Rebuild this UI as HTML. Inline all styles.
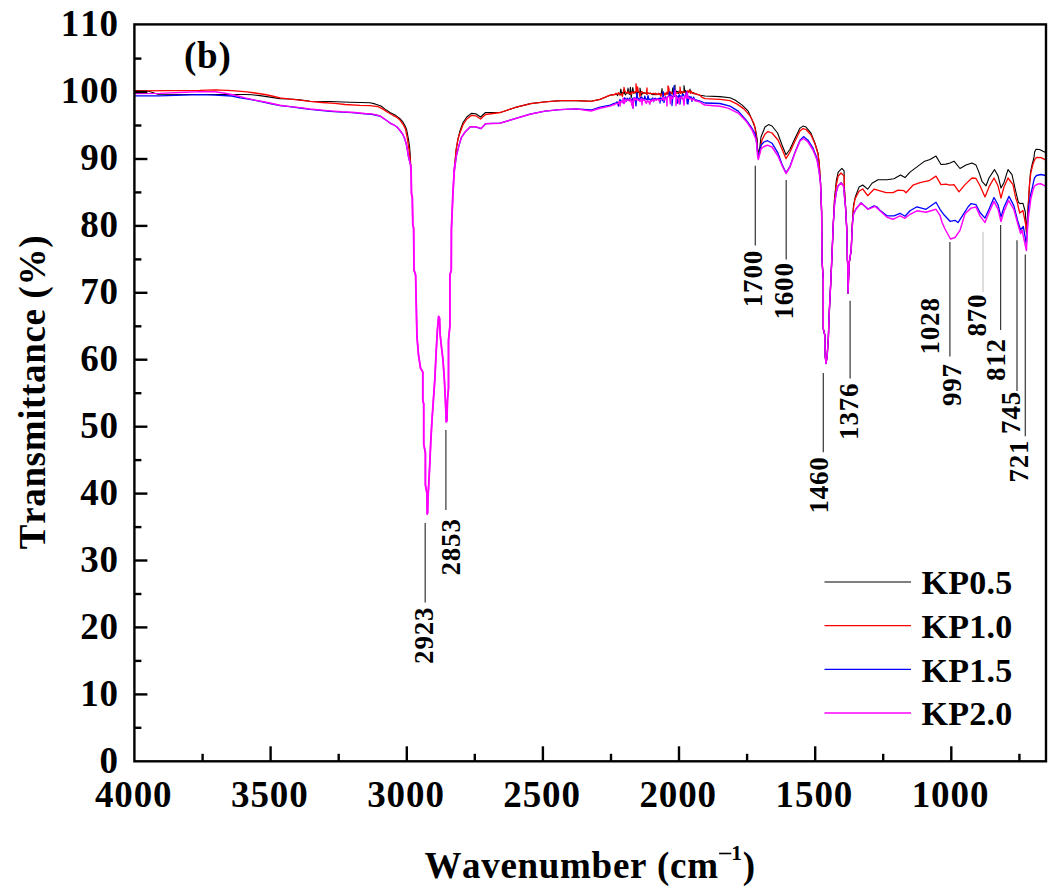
<!DOCTYPE html>
<html><head><meta charset="utf-8"><style>
html,body{margin:0;padding:0;background:#fff;}
body{width:1059px;height:896px;overflow:hidden;font-family:"Liberation Serif",serif;}
svg{display:block;font-kerning:none;}
</style></head><body>
<svg width="1059" height="896" viewBox="0 0 1059 896"><rect x="0" y="0" width="1059" height="896" fill="#ffffff"/><path d="M134.5,90.6 L148.0,91.0 L158.0,94.3 L200.0,94.5 L235.0,94.5 L245.0,94.5 L252.0,94.8 L260.0,95.6 L270.0,97.1 L280.0,98.6 L290.0,99.0 L300.0,99.9 L310.0,101.2 L330.0,101.5 L350.0,102.2 L370.0,102.8 L375.0,103.9 L381.0,106.0 L385.0,109.1 L390.0,112.5 L395.0,114.9 L400.0,118.7 L403.0,122.2 L405.0,125.7 L406.5,129.1 L407.5,134.0 L408.5,139.5 L409.5,146.4 L410.1,153.0 L410.5,160.0 L410.6,165.0 L410.6,165.0 L411.1,172.0 M454.2,172.0 L454.7,166.0 L454.7,166.0 L455.2,160.0 L456.1,150.0 L457.9,139.3 L460.1,130.4 L463.2,122.3 L466.8,117.0 L471.3,113.4 L475.7,113.8 L480.6,117.0 L485.5,112.5 L500.4,112.5 L515.5,107.4 L530.6,103.6 L545.7,101.8 L560.8,100.6 L576.0,100.6 L591.0,101.3 L600.0,99.4 L610.0,95.2 L612.0,94.9 L612.8,94.8 L613.6,94.6 L614.4,94.5 L615.2,94.4 L616.0,94.2 L616.8,94.3 L617.6,95.6 L618.4,93.1 L619.2,93.9 L620.0,93.8 L620.8,89.1 L621.6,93.7 L622.4,92.7 L623.2,93.5 L624.0,89.0 L624.8,94.0 L625.6,94.9 L626.4,93.0 L627.2,93.1 L628.0,88.8 L628.0,88.0 L628.8,93.6 L629.6,94.4 L630.4,87.4 L631.2,97.9 L632.0,92.0 L632.8,87.5 L633.6,93.0 L634.4,92.7 L635.2,92.7 L636.0,92.6 L636.8,95.9 L637.6,91.7 L638.4,92.6 L639.2,92.2 L640.0,92.2 L640.0,88.0 L640.8,92.4 L641.6,95.1 L642.4,93.1 L643.2,92.7 L644.0,92.9 L644.8,92.9 L645.6,93.2 L646.4,94.1 L647.2,93.6 L648.0,93.6 L648.8,93.2 L649.6,93.4 L650.4,93.1 L651.2,93.8 L652.0,94.4 L652.8,94.7 L653.6,94.2 L654.4,94.6 L655.2,94.8 L656.0,93.7 L656.8,94.1 L657.6,94.2 L658.4,94.0 L659.2,93.8 L660.0,94.1 L660.8,94.4 L661.6,91.9 L662.0,88.5 L662.4,93.8 L663.2,93.6 L664.0,93.7 L664.8,93.3 L665.6,94.3 L666.4,93.7 L667.2,93.8 L668.0,93.6 L668.8,93.1 L669.6,92.0 L670.4,93.9 L671.2,92.5 L672.0,94.0 L672.8,87.9 L673.6,92.9 L674.4,93.6 L675.0,85.0 L675.2,93.0 L676.0,92.4 L676.8,91.1 L677.6,91.6 L678.4,93.5 L679.2,91.0 L680.0,93.2 L680.8,91.7 L681.6,91.7 L682.4,93.4 L683.2,92.9 L684.0,92.1 L684.0,85.5 L684.8,91.4 L685.6,90.6 L686.4,92.8 L687.2,93.4 L688.0,92.4 L688.8,91.8 L689.6,91.1 L690.0,89.0 L690.4,92.2 L691.2,92.6 L692.0,92.8 L692.8,93.2 L693.6,92.6 L694.4,93.7 L695.2,93.8 L696.0,94.1 L696.8,94.3 L697.6,94.4 L698.4,94.8 L699.2,95.0 L700.0,95.2 L705.0,96.0 L720.0,96.6 L730.0,97.8 L735.0,100.0 L742.2,105.1 L748.2,111.1 L752.2,120.2 L755.3,128.2 L757.3,140.2 L757.5,148.0 L757.5,148.0 L758.5,152.0 L759.5,150.0 L761.0,137.0 L765.0,127.0 L768.5,124.6 L772.0,126.0 L777.6,133.0 L782.0,145.0 L786.0,154.7 L790.0,149.2 L795.0,138.2 L800.0,128.1 L803.0,126.1 L806.0,127.1 L811.0,133.1 L815.0,143.2 L818.0,153.2 L819.1,162.3 L820.4,180.7 L821.6,211.4 L822.0,260.0 L823.3,280.0 L823.3,329.0 L824.8,335.0 L825.2,356.0 L826.0,363.0 L827.1,357.0 L828.4,337.0 L829.1,315.6 L830.4,290.0 L831.8,259.4 L833.3,223.7 L834.5,199.1 L836.3,180.7 L838.2,172.1 L841.9,168.4 L844.1,170.9 L844.3,186.9 L845.5,205.3 L846.8,229.9 L847.4,260.0 L847.8,265.0 L848.0,293.0 L849.2,263.0 L851.2,250.0 L852.3,223.7 L853.5,205.3 L855.4,196.7 L859.1,186.9 L862.7,185.0 L867.7,189.2 L872.0,183.2 L878.0,179.7 L887.0,179.7 L894.0,178.7 L900.5,175.1 L905.0,177.6 L910.0,172.1 L916.0,167.6 L924.0,161.6 L930.0,159.6 L936.0,156.1 L941.0,164.5 L946.0,164.1 L950.0,163.0 L954.0,161.2 L960.0,168.5 L966.0,165.1 L972.0,162.9 L976.0,165.1 L979.0,172.4 L982.0,181.3 L986.0,185.8 L989.0,178.0 L994.5,169.6 L998.0,175.7 L1001.0,188.0 L1004.0,182.4 L1008.0,169.6 L1012.0,174.6 L1016.0,192.5 L1018.4,202.3 L1020.0,203.6 L1022.9,203.2 L1025.3,212.0 L1026.4,232.0 L1027.6,215.0 L1028.4,202.3 L1029.5,185.0 L1030.5,172.0 L1032.0,165.0 L1034.0,157.5 L1034.6,152.0 L1036.0,149.3 L1039.5,149.5 L1045.5,152.5" fill="none" stroke="#000000" stroke-width="1.1" stroke-linejoin="round"/><path d="M134.5,90.8 L200.0,90.3 L215.0,89.8 L232.0,90.7 L247.0,91.8 L255.0,93.0 L265.0,94.5 L272.0,96.0 L280.0,97.9 L290.0,99.2 L300.0,100.1 L310.0,101.4 L322.0,102.5 L335.0,103.3 L345.0,104.5 L360.0,105.4 L370.0,105.6 L378.0,106.6 L383.0,109.1 L388.0,112.5 L393.0,115.3 L397.0,117.4 L400.0,120.1 L403.0,124.3 L405.5,129.1 L406.5,134.0 L407.5,139.5 L408.5,146.4 L409.5,153.3 L410.3,160.0 L410.6,165.0 L410.6,165.0 L411.1,172.0 M454.2,172.0 L454.7,166.0 L454.7,166.0 L455.2,160.0 L456.1,150.0 L457.9,139.3 L460.1,132.4 L463.2,124.3 L466.8,119.0 L471.3,115.4 L475.7,115.8 L480.6,119.0 L485.5,114.5 L500.4,112.5 L515.5,107.4 L530.6,103.6 L545.7,101.8 L560.8,100.6 L576.0,100.6 L591.0,101.3 L600.0,99.4 L610.0,95.2 L612.0,94.9 L612.8,94.7 L613.6,95.0 L614.4,94.3 L615.2,94.5 L616.0,93.2 L616.8,94.1 L617.6,94.2 L618.4,92.8 L619.2,93.7 L620.0,95.2 L620.8,94.6 L621.6,94.0 L622.4,96.3 L623.2,92.0 L624.0,91.1 L624.0,87.5 L624.8,90.8 L625.6,92.2 L626.4,92.7 L627.2,93.0 L628.0,91.6 L628.8,93.1 L629.6,93.3 L630.4,93.0 L631.2,94.4 L632.0,91.8 L632.8,92.4 L633.6,93.2 L634.4,92.3 L635.2,91.6 L636.0,92.3 L636.0,83.8 L636.8,92.2 L637.6,87.0 L638.4,91.8 L639.2,92.3 L640.0,97.2 L640.8,92.5 L641.6,91.6 L642.4,92.1 L643.2,93.1 L644.0,93.5 L644.8,93.1 L645.6,93.2 L646.4,93.0 L647.0,88.0 L647.2,94.1 L648.0,93.0 L648.8,93.2 L649.6,93.7 L650.4,93.5 L651.2,93.7 L652.0,93.6 L652.8,93.5 L653.6,93.3 L654.4,93.9 L655.2,93.2 L656.0,94.3 L656.8,94.5 L657.6,94.2 L658.4,93.3 L659.2,94.4 L660.0,94.2 L660.8,96.3 L661.6,94.0 L662.4,94.5 L663.2,93.7 L664.0,95.3 L664.8,93.3 L665.6,94.9 L666.4,92.5 L667.2,92.3 L668.0,94.4 L668.0,86.0 L668.8,87.7 L669.6,94.8 L670.4,91.8 L671.2,92.6 L672.0,93.1 L672.8,94.1 L673.6,92.1 L674.4,93.4 L675.2,93.3 L676.0,92.5 L676.8,93.4 L677.6,92.7 L678.4,92.7 L679.2,92.5 L680.0,91.0 L680.0,87.0 L680.8,93.4 L681.6,92.5 L682.4,91.9 L683.2,91.5 L684.0,92.4 L684.8,92.2 L685.6,92.5 L686.4,93.2 L687.2,90.7 L688.0,92.1 L688.8,90.7 L689.6,91.0 L690.4,93.3 L691.2,91.2 L692.0,92.8 L692.8,92.6 L693.6,93.6 L694.4,93.4 L695.2,93.7 L696.0,93.8 L696.8,94.2 L697.6,94.5 L698.4,94.7 L699.2,95.0 L700.0,95.2 L702.0,97.3 L705.0,98.6 L720.0,99.4 L730.0,100.6 L737.2,104.1 L744.2,109.1 L750.2,116.2 L754.3,124.2 L756.3,136.2 L757.5,150.0 L757.5,150.0 L758.5,156.0 L760.0,152.0 L762.0,140.0 L765.0,134.0 L768.0,131.6 L772.0,133.0 L778.0,140.0 L782.0,149.0 L786.0,158.7 L790.0,152.0 L795.0,141.0 L800.0,131.0 L803.0,128.6 L806.0,129.5 L811.0,135.0 L815.0,144.0 L818.0,154.0 L819.1,162.3 L820.4,180.7 L821.6,211.4 L822.0,260.0 L823.3,280.0 L823.3,329.0 L824.8,335.0 L825.2,356.0 L826.0,363.0 L827.1,357.0 L828.4,337.0 L829.1,315.6 L830.4,290.0 L831.8,259.4 L833.3,223.7 L834.5,200.0 L836.3,185.0 L838.2,176.0 L841.0,173.0 L844.1,176.0 L844.3,188.0 L845.5,205.3 L846.8,229.9 L847.4,260.0 L847.8,265.0 L848.0,293.0 L849.2,263.0 L851.2,250.0 L852.3,224.0 L853.5,208.0 L855.0,199.0 L859.0,191.2 L862.7,189.0 L867.7,195.7 L874.0,189.2 L886.0,192.7 L893.0,192.7 L898.0,190.2 L904.0,190.7 L906.0,192.7 L913.0,185.2 L920.0,182.7 L929.0,180.7 L936.0,176.1 L941.0,184.7 L946.0,184.2 L950.0,185.2 L954.0,184.6 L959.0,191.9 L965.0,184.6 L972.0,178.0 L976.0,178.5 L980.0,185.8 L985.0,196.9 L989.0,186.9 L994.0,178.0 L998.0,185.8 L1001.0,198.0 L1004.0,186.9 L1008.0,178.0 L1013.0,184.6 L1015.7,197.9 L1017.0,201.4 L1019.7,213.0 L1022.9,210.4 L1025.6,224.0 L1026.6,233.0 L1027.8,215.0 L1028.7,197.9 L1029.6,183.0 L1031.0,172.0 L1033.0,164.0 L1035.0,159.0 L1037.0,157.3 L1041.0,157.7 L1045.5,159.8" fill="none" stroke="#ff0000" stroke-width="1.3" stroke-linejoin="round"/><path d="M134.5,95.8 L159.0,95.8 L200.0,94.7 L215.0,95.2 L232.0,96.0 L240.0,97.9 L250.0,99.4 L260.0,101.3 L270.0,103.5 L280.0,105.6 L290.0,106.6 L300.0,108.0 L310.0,109.4 L330.0,111.3 L342.0,112.2 L352.0,112.7 L365.0,113.9 L372.0,114.3 L375.0,115.0 L380.0,116.0 L384.0,118.7 L388.0,121.5 L391.0,123.6 L394.0,125.0 L397.0,127.0 L400.0,130.5 L403.0,134.7 L405.0,139.5 L406.5,145.0 L407.5,150.6 L408.5,156.8 L409.3,160.0 L410.6,165.0 L410.6,165.0 L411.1,172.0 M454.2,172.0 L454.7,166.0 L454.7,166.0 L455.5,162.0 L456.5,155.4 L459.2,144.6 L461.4,137.5 L465.0,132.1 L470.4,126.8 L475.7,126.8 L481.1,128.6 L485.5,123.7 L500.0,123.2 L515.0,118.7 L530.0,114.2 L545.0,111.1 L560.0,109.6 L576.0,108.9 L591.0,110.0 L600.0,107.2 L610.0,105.1 L612.0,104.3 L612.8,103.9 L613.6,103.7 L614.4,103.5 L615.2,103.2 L616.0,103.0 L616.8,102.0 L617.6,102.4 L618.4,106.2 L619.2,102.2 L620.0,99.5 L620.8,100.7 L621.6,101.2 L622.4,101.0 L623.2,103.1 L624.0,99.1 L624.8,97.8 L625.6,99.0 L626.4,101.2 L627.2,98.2 L628.0,100.2 L628.8,99.4 L629.6,98.1 L630.4,98.7 L631.2,100.3 L632.0,100.5 L632.8,98.2 L633.0,108.0 L633.6,100.6 L634.4,97.8 L635.2,98.1 L636.0,105.9 L636.8,93.0 L637.6,97.8 L638.4,98.6 L639.2,100.5 L640.0,98.6 L640.8,97.5 L641.6,96.9 L642.4,98.6 L643.2,98.8 L644.0,99.6 L644.8,96.2 L645.6,98.7 L646.4,99.5 L647.2,99.5 L648.0,95.7 L648.8,99.6 L649.6,99.1 L650.4,99.3 L651.2,99.9 L652.0,98.8 L652.8,98.0 L653.6,101.7 L654.4,98.8 L655.2,98.2 L656.0,98.7 L656.8,99.4 L657.6,98.8 L658.4,98.5 L659.2,99.4 L660.0,97.9 L660.0,103.0 L660.8,98.0 L661.6,98.3 L662.4,100.8 L663.2,91.7 L664.0,102.6 L664.8,98.6 L665.6,96.8 L666.4,98.0 L667.2,97.4 L668.0,96.4 L668.8,96.3 L669.6,91.9 L670.4,97.6 L671.2,95.4 L672.0,95.9 L672.0,105.5 L672.8,96.9 L673.6,96.4 L674.0,86.0 L674.4,96.3 L675.2,93.9 L676.0,96.3 L676.8,96.0 L677.6,103.1 L678.4,96.1 L679.2,94.8 L680.0,97.6 L680.0,104.0 L680.8,95.9 L681.6,97.9 L682.4,94.3 L683.2,94.4 L684.0,96.0 L684.8,97.5 L685.6,96.3 L686.4,91.8 L687.2,103.7 L688.0,97.6 L688.0,104.0 L688.8,96.2 L689.6,97.4 L690.4,97.0 L691.2,96.9 L692.0,101.4 L692.8,98.8 L693.6,97.1 L694.4,98.8 L695.2,100.2 L696.0,99.7 L696.8,100.2 L697.6,100.5 L698.4,100.6 L699.2,100.8 L700.0,101.0 L705.0,103.0 L720.0,103.5 L730.0,106.1 L738.2,111.1 L746.2,120.2 L751.2,127.2 L755.3,134.2 L756.8,144.3 L757.5,152.0 L757.5,152.0 L758.3,158.0 L759.5,152.0 L761.0,145.2 L764.0,142.0 L767.5,140.7 L772.0,143.2 L778.0,153.2 L782.0,164.3 L786.0,172.8 L790.0,166.3 L795.0,152.2 L800.0,140.2 L803.5,136.6 L808.0,140.2 L813.0,148.2 L817.0,158.2 L819.0,170.3 L820.5,182.3 L821.6,211.4 L822.0,260.0 L823.3,280.0 L823.3,329.0 L824.8,335.0 L825.2,356.0 L826.0,363.5 L827.1,357.0 L828.4,337.0 L829.1,315.6 L830.4,290.0 L831.8,259.4 L833.3,223.7 L834.5,205.0 L836.3,192.0 L838.0,186.0 L841.2,182.6 L843.5,186.0 L844.3,195.0 L845.5,207.0 L846.8,229.9 L847.4,260.0 L847.8,265.0 L848.0,293.0 L849.2,263.0 L851.2,250.0 L852.3,226.0 L853.5,213.9 L856.0,209.0 L861.0,202.8 L868.0,209.0 L874.0,205.9 L877.0,206.8 L880.0,210.3 L887.0,215.8 L894.0,215.8 L900.0,213.3 L905.0,216.3 L910.0,210.8 L917.0,206.8 L926.0,209.3 L936.0,202.2 L940.0,209.3 L944.0,214.8 L950.0,221.3 L955.0,220.3 L958.0,222.6 L963.0,214.8 L968.0,207.0 L971.0,203.6 L976.0,204.7 L980.0,212.5 L985.0,218.1 L989.0,209.2 L994.0,197.5 L998.0,204.7 L1001.0,217.0 L1004.0,207.0 L1009.0,196.4 L1013.9,205.9 L1017.5,220.2 L1020.6,230.0 L1023.3,226.4 L1026.4,244.3 L1028.7,206.8 L1030.5,195.0 L1032.5,187.0 L1033.5,182.0 L1034.5,178.0 L1036.5,175.5 L1041.0,174.5 L1045.5,175.5" fill="none" stroke="#0000ff" stroke-width="1.3" stroke-linejoin="round"/><path d="M134.5,93.6 L160.0,93.4 L185.0,92.2 L200.0,91.6 L215.0,91.8 L225.0,93.3 L235.0,95.2 L245.0,97.9 L255.0,100.1 L265.0,102.0 L280.0,105.2 L290.0,106.6 L300.0,107.6 L310.0,109.0 L330.0,110.9 L342.0,111.8 L352.0,112.3 L365.0,113.5 L372.0,113.9 L375.0,114.6 L380.0,116.0 L384.0,118.7 L388.0,121.5 L391.0,123.6 L394.0,125.0 L397.0,127.0 L400.0,130.5 L403.0,134.7 L405.0,139.5 L406.5,145.0 L407.5,150.6 L408.5,156.8 L409.3,160.0 L410.6,165.0 L410.6,165.0 L411.1,172.0 L411.5,194.0 L412.3,197.0 L412.8,225.0 L413.6,228.0 L414.0,270.0 L415.6,275.0 L416.7,325.0 L417.0,337.0 L418.5,355.0 L420.5,368.0 L422.8,372.0 L422.8,400.0 L423.7,404.0 L423.7,444.0 L425.4,453.0 L425.4,485.0 L426.9,493.0 L427.2,514.0 L427.6,513.0 L428.0,498.0 L429.5,470.0 L430.8,441.0 L432.0,420.0 L433.4,400.0 L434.8,380.0 L436.0,355.0 L437.4,330.0 L438.6,316.5 L439.5,318.0 L440.2,335.0 L441.6,348.0 L443.0,360.0 L444.4,380.0 L445.6,405.0 L446.2,421.8 L446.9,421.0 L447.5,400.0 L448.5,388.0 L448.5,340.0 L449.9,326.0 L449.9,275.0 L451.3,270.0 L451.4,230.0 L453.0,191.4 L454.2,172.0 L454.7,166.0 L454.7,166.0 L455.5,162.0 L456.5,155.4 L459.2,144.6 L461.4,137.5 L465.0,132.1 L470.4,126.8 L475.7,126.8 L481.1,128.6 L485.5,123.7 L500.0,123.2 L515.0,118.7 L530.0,114.2 L545.0,111.1 L560.0,109.6 L576.0,108.9 L591.0,111.0 L600.0,108.2 L610.0,106.1 L612.0,105.3 L612.8,104.9 L613.6,104.7 L614.4,104.7 L615.2,104.0 L616.0,103.5 L616.8,103.6 L617.6,103.9 L618.4,103.3 L619.2,101.4 L620.0,102.1 L620.0,106.0 L620.8,101.6 L621.6,101.7 L622.4,102.2 L623.2,98.2 L624.0,103.6 L624.8,102.5 L625.6,99.5 L626.4,100.3 L627.2,100.2 L628.0,99.8 L628.8,100.5 L629.6,101.0 L630.4,99.0 L631.2,101.3 L632.0,105.5 L632.8,100.8 L633.0,108.2 L633.6,98.1 L634.4,100.3 L635.2,98.6 L636.0,100.0 L636.8,98.9 L637.6,99.9 L638.4,100.3 L639.2,99.9 L640.0,101.5 L640.8,99.8 L641.6,98.7 L642.0,105.0 L642.4,100.4 L643.2,99.7 L644.0,100.3 L644.8,99.9 L645.6,102.5 L646.4,103.3 L647.2,100.8 L648.0,101.5 L648.8,101.4 L649.6,104.1 L650.0,104.0 L650.4,100.4 L651.2,101.2 L652.0,100.2 L652.8,99.5 L653.6,101.1 L654.4,99.6 L655.2,99.4 L656.0,100.3 L656.8,99.8 L657.6,99.1 L658.4,99.6 L659.2,101.0 L660.0,99.4 L660.8,99.6 L661.6,99.4 L662.4,99.3 L663.2,97.1 L664.0,100.2 L664.8,97.9 L665.6,98.7 L666.4,98.1 L667.0,106.0 L667.2,97.3 L668.0,96.7 L668.8,96.2 L669.6,96.6 L670.4,103.8 L671.2,96.1 L672.0,98.6 L672.8,98.1 L673.6,96.0 L674.4,95.5 L675.2,90.0 L676.0,98.0 L676.0,105.5 L676.8,97.3 L677.6,98.4 L678.4,98.5 L679.2,103.8 L680.0,97.4 L680.8,97.2 L681.6,97.1 L682.4,99.2 L683.2,98.1 L684.0,105.1 L684.8,95.5 L685.6,96.4 L686.4,98.0 L687.2,92.2 L688.0,98.3 L688.8,97.3 L689.6,98.9 L690.4,98.7 L691.2,98.6 L692.0,100.3 L692.8,99.8 L693.6,98.8 L694.4,99.8 L695.2,100.8 L696.0,101.2 L696.8,100.9 L697.6,101.3 L698.4,101.5 L699.2,101.7 L700.0,102.0 L702.0,103.5 L705.0,105.0 L720.0,106.2 L728.0,108.1 L738.2,113.1 L746.2,121.2 L752.2,130.2 L756.3,140.2 L757.5,155.0 L757.5,155.0 L758.3,159.5 L759.5,155.0 L761.0,149.0 L764.0,146.5 L767.5,145.2 L772.0,147.0 L778.0,156.0 L782.0,165.5 L786.0,173.5 L790.0,167.0 L795.0,153.0 L800.0,141.0 L803.5,138.5 L808.0,142.0 L813.0,150.0 L817.0,160.0 L819.0,171.0 L820.5,183.0 L821.6,211.4 L822.0,260.0 L823.3,280.0 L823.3,329.0 L824.8,335.0 L825.2,356.0 L826.0,363.5 L827.1,357.0 L828.4,337.0 L829.1,315.6 L830.4,290.0 L831.8,259.4 L833.3,223.7 L834.5,205.0 L836.3,192.0 L838.0,186.0 L841.2,183.0 L843.5,186.0 L844.3,195.0 L845.5,207.0 L846.8,229.9 L847.4,260.0 L847.8,265.0 L848.0,293.0 L849.2,263.0 L851.2,250.0 L852.3,226.0 L853.5,214.0 L856.0,209.0 L861.0,203.0 L868.0,209.3 L875.0,206.3 L887.0,217.3 L893.0,219.3 L900.0,215.8 L905.0,218.3 L910.0,214.3 L917.0,210.8 L926.0,212.3 L936.0,209.3 L940.0,215.3 L942.0,222.3 L945.0,229.0 L950.5,239.0 L955.0,237.5 L960.0,230.4 L965.0,213.7 L971.0,208.1 L976.0,207.0 L980.0,215.9 L985.0,222.6 L989.0,212.5 L994.0,201.4 L998.0,209.2 L1001.0,221.5 L1004.0,211.4 L1008.6,200.5 L1013.9,209.5 L1017.5,222.9 L1020.6,233.6 L1022.0,230.0 L1026.4,250.5 L1028.0,220.2 L1031.0,198.0 L1033.0,190.0 L1034.5,186.0 L1036.0,185.0 L1038.0,184.0 L1041.0,183.8 L1045.5,186.2" fill="none" stroke="#ff00ff" stroke-width="1.45" stroke-linejoin="round"/><polyline points="410.6,165.0 410.6,165.0 411.1,172.0 411.5,194.0 412.3,197.0 412.8,225.0 413.6,228.0 414.0,270.0 415.6,275.0 416.7,325.0 417.0,337.0 418.5,355.0 420.5,368.0 422.8,372.0 422.8,400.0 423.7,404.0 423.7,444.0 425.4,453.0 425.4,485.0 426.9,493.0 427.2,514.0 427.6,513.0 428.0,498.0 429.5,470.0 430.8,441.0 432.0,420.0 433.4,400.0 434.8,380.0 436.0,355.0 437.4,330.0 438.6,316.5 439.5,318.0 440.2,335.0 441.6,348.0 443.0,360.0 444.4,380.0 445.6,405.0 446.2,421.8 446.9,421.0 447.5,400.0 448.5,388.0 448.5,340.0 449.9,326.0 449.9,275.0 451.3,270.0 451.4,230.0 453.0,191.4 454.2,172.0 454.7,166.0 454.7,166.0 455.5,162.0" fill="none" stroke="#ff00ff" stroke-width="1.8" stroke-linejoin="round"/><rect x="134.4" y="24.4" width="911.6" height="736.9" fill="none" stroke="#000" stroke-width="2.4"/><line x1="134.4" y1="727.8" x2="141.4" y2="727.8" stroke="#000" stroke-width="2.4"/><line x1="134.4" y1="694.4" x2="147.4" y2="694.4" stroke="#000" stroke-width="2.4"/><line x1="134.4" y1="660.9" x2="141.4" y2="660.9" stroke="#000" stroke-width="2.4"/><line x1="134.4" y1="627.4" x2="147.4" y2="627.4" stroke="#000" stroke-width="2.4"/><line x1="134.4" y1="594.0" x2="141.4" y2="594.0" stroke="#000" stroke-width="2.4"/><line x1="134.4" y1="560.5" x2="147.4" y2="560.5" stroke="#000" stroke-width="2.4"/><line x1="134.4" y1="527.1" x2="141.4" y2="527.1" stroke="#000" stroke-width="2.4"/><line x1="134.4" y1="493.6" x2="147.4" y2="493.6" stroke="#000" stroke-width="2.4"/><line x1="134.4" y1="460.1" x2="141.4" y2="460.1" stroke="#000" stroke-width="2.4"/><line x1="134.4" y1="426.7" x2="147.4" y2="426.7" stroke="#000" stroke-width="2.4"/><line x1="134.4" y1="393.2" x2="141.4" y2="393.2" stroke="#000" stroke-width="2.4"/><line x1="134.4" y1="359.7" x2="147.4" y2="359.7" stroke="#000" stroke-width="2.4"/><line x1="134.4" y1="326.3" x2="141.4" y2="326.3" stroke="#000" stroke-width="2.4"/><line x1="134.4" y1="292.8" x2="147.4" y2="292.8" stroke="#000" stroke-width="2.4"/><line x1="134.4" y1="259.4" x2="141.4" y2="259.4" stroke="#000" stroke-width="2.4"/><line x1="134.4" y1="225.9" x2="147.4" y2="225.9" stroke="#000" stroke-width="2.4"/><line x1="134.4" y1="192.4" x2="141.4" y2="192.4" stroke="#000" stroke-width="2.4"/><line x1="134.4" y1="159.0" x2="147.4" y2="159.0" stroke="#000" stroke-width="2.4"/><line x1="134.4" y1="125.5" x2="141.4" y2="125.5" stroke="#000" stroke-width="2.4"/><line x1="134.4" y1="92.0" x2="147.4" y2="92.0" stroke="#000" stroke-width="2.4"/><line x1="134.4" y1="58.6" x2="141.4" y2="58.6" stroke="#000" stroke-width="2.4"/><line x1="202.6" y1="761.3" x2="202.6" y2="753.8" stroke="#000" stroke-width="2.4"/><line x1="270.6" y1="761.3" x2="270.6" y2="746.3" stroke="#000" stroke-width="2.4"/><line x1="338.7" y1="761.3" x2="338.7" y2="753.8" stroke="#000" stroke-width="2.4"/><line x1="406.8" y1="761.3" x2="406.8" y2="746.3" stroke="#000" stroke-width="2.4"/><line x1="474.8" y1="761.3" x2="474.8" y2="753.8" stroke="#000" stroke-width="2.4"/><line x1="542.9" y1="761.3" x2="542.9" y2="746.3" stroke="#000" stroke-width="2.4"/><line x1="611.0" y1="761.3" x2="611.0" y2="753.8" stroke="#000" stroke-width="2.4"/><line x1="679.0" y1="761.3" x2="679.0" y2="746.3" stroke="#000" stroke-width="2.4"/><line x1="747.1" y1="761.3" x2="747.1" y2="753.8" stroke="#000" stroke-width="2.4"/><line x1="815.2" y1="761.3" x2="815.2" y2="746.3" stroke="#000" stroke-width="2.4"/><line x1="883.2" y1="761.3" x2="883.2" y2="753.8" stroke="#000" stroke-width="2.4"/><line x1="951.3" y1="761.3" x2="951.3" y2="746.3" stroke="#000" stroke-width="2.4"/><line x1="1019.4" y1="761.3" x2="1019.4" y2="753.8" stroke="#000" stroke-width="2.4"/><text x="119" y="772.8" text-anchor="end" letter-spacing="0.9" font-family='"Liberation Serif", serif' font-weight="bold" font-size="37">0</text><text x="119" y="705.8" text-anchor="end" letter-spacing="0.9" font-family='"Liberation Serif", serif' font-weight="bold" font-size="37">10</text><text x="119" y="638.9" text-anchor="end" letter-spacing="0.9" font-family='"Liberation Serif", serif' font-weight="bold" font-size="37">20</text><text x="119" y="571.9" text-anchor="end" letter-spacing="0.9" font-family='"Liberation Serif", serif' font-weight="bold" font-size="37">30</text><text x="119" y="505.0" text-anchor="end" letter-spacing="0.9" font-family='"Liberation Serif", serif' font-weight="bold" font-size="37">40</text><text x="119" y="438.1" text-anchor="end" letter-spacing="0.9" font-family='"Liberation Serif", serif' font-weight="bold" font-size="37">50</text><text x="119" y="371.1" text-anchor="end" letter-spacing="0.9" font-family='"Liberation Serif", serif' font-weight="bold" font-size="37">60</text><text x="119" y="304.1" text-anchor="end" letter-spacing="0.9" font-family='"Liberation Serif", serif' font-weight="bold" font-size="37">70</text><text x="119" y="237.2" text-anchor="end" letter-spacing="0.9" font-family='"Liberation Serif", serif' font-weight="bold" font-size="37">80</text><text x="119" y="170.2" text-anchor="end" letter-spacing="0.9" font-family='"Liberation Serif", serif' font-weight="bold" font-size="37">90</text><text x="119" y="103.3" text-anchor="end" letter-spacing="0.9" font-family='"Liberation Serif", serif' font-weight="bold" font-size="37">100</text><text x="119" y="36.3" text-anchor="end" letter-spacing="0.9" font-family='"Liberation Serif", serif' font-weight="bold" font-size="37">110</text><text x="133.7" y="807" text-anchor="middle" letter-spacing="0.9" font-family='"Liberation Serif", serif' font-weight="bold" font-size="37">4000</text><text x="269.8" y="807" text-anchor="middle" letter-spacing="0.9" font-family='"Liberation Serif", serif' font-weight="bold" font-size="37">3500</text><text x="406.0" y="807" text-anchor="middle" letter-spacing="0.9" font-family='"Liberation Serif", serif' font-weight="bold" font-size="37">3000</text><text x="542.1" y="807" text-anchor="middle" letter-spacing="0.9" font-family='"Liberation Serif", serif' font-weight="bold" font-size="37">2500</text><text x="678.2" y="807" text-anchor="middle" letter-spacing="0.9" font-family='"Liberation Serif", serif' font-weight="bold" font-size="37">2000</text><text x="814.4" y="807" text-anchor="middle" letter-spacing="0.9" font-family='"Liberation Serif", serif' font-weight="bold" font-size="37">1500</text><text x="950.5" y="807" text-anchor="middle" letter-spacing="0.9" font-family='"Liberation Serif", serif' font-weight="bold" font-size="37">1000</text><text x="424.4" y="878.2" letter-spacing="0.69" font-family='"Liberation Serif", serif' font-weight="bold" font-size="37">Wavenumber (cm</text><line x1="719.1" y1="853.5" x2="731.3" y2="853.5" stroke="#000" stroke-width="1.6"/><text x="731.3" y="859.5" font-family='"Liberation Serif", serif' font-weight="bold" font-size="21.5">1</text><text x="742.7" y="878.2" font-family='"Liberation Serif", serif' font-weight="bold" font-size="37">)</text><text transform="translate(44.6,549.2) rotate(-90)" x="0" y="0" letter-spacing="0.66" font-family='"Liberation Serif", serif' font-weight="bold" font-size="37">Transmittance (%)</text><text x="183.9" y="68.0" letter-spacing="0.9" font-family='"Liberation Serif", serif' font-weight="bold" font-size="37">(b)</text><line x1="425.2" y1="523" x2="425.2" y2="602.5" stroke="#3c3c3c" stroke-width="1.25"/><text transform="translate(432.7,663.9) rotate(-90)" x="0" y="0" letter-spacing="0.8" font-family='"Liberation Serif", serif' font-weight="bold" font-size="27">2923</text><line x1="445.9" y1="430" x2="445.9" y2="510" stroke="#3c3c3c" stroke-width="1.25"/><text transform="translate(459.8,575.5) rotate(-90)" x="0" y="0" letter-spacing="0.8" font-family='"Liberation Serif", serif' font-weight="bold" font-size="27">2853</text><line x1="755.3" y1="165.7" x2="755.3" y2="245.4" stroke="#3c3c3c" stroke-width="1.25"/><text transform="translate(762.0,307.2) rotate(-90)" x="0" y="0" letter-spacing="0.8" font-family='"Liberation Serif", serif' font-weight="bold" font-size="27">1700</text><line x1="786.2" y1="180" x2="786.2" y2="259.6" stroke="#3c3c3c" stroke-width="1.25"/><text transform="translate(793.3,319.5) rotate(-90)" x="0" y="0" letter-spacing="0.8" font-family='"Liberation Serif", serif' font-weight="bold" font-size="27">1600</text><line x1="823.3" y1="373.1" x2="823.3" y2="452.2" stroke="#3c3c3c" stroke-width="1.25"/><text transform="translate(827.7,513.6) rotate(-90)" x="0" y="0" letter-spacing="0.8" font-family='"Liberation Serif", serif' font-weight="bold" font-size="27">1460</text><line x1="850.1" y1="300.7" x2="850.1" y2="378.5" stroke="#3c3c3c" stroke-width="1.25"/><text transform="translate(857.9,439.9) rotate(-90)" x="0" y="0" letter-spacing="0.8" font-family='"Liberation Serif", serif' font-weight="bold" font-size="27">1376</text><text transform="translate(938.7,354.5) rotate(-90)" x="0" y="0" letter-spacing="0.8" font-family='"Liberation Serif", serif' font-weight="bold" font-size="27">1028</text><line x1="949.9" y1="242" x2="949.9" y2="356.6" stroke="#3c3c3c" stroke-width="1.25"/><text transform="translate(961.4,406.1) rotate(-90)" x="0" y="0" letter-spacing="0.8" font-family='"Liberation Serif", serif' font-weight="bold" font-size="27">997</text><line x1="983" y1="231.8" x2="983" y2="292" stroke="#c8c8c8" stroke-width="1.25"/><text transform="translate(986.4,336.6) rotate(-90)" x="0" y="0" letter-spacing="0.8" font-family='"Liberation Serif", serif' font-weight="bold" font-size="27">870</text><line x1="1000.6" y1="225" x2="1000.6" y2="330" stroke="#3c3c3c" stroke-width="1.25"/><text transform="translate(1005.1,381.1) rotate(-90)" x="0" y="0" letter-spacing="0.8" font-family='"Liberation Serif", serif' font-weight="bold" font-size="27">812</text><line x1="1017" y1="240.3" x2="1017" y2="391" stroke="#3c3c3c" stroke-width="1.25"/><text transform="translate(1020.0,433.9) rotate(-90)" x="0" y="0" letter-spacing="0.8" font-family='"Liberation Serif", serif' font-weight="bold" font-size="27">745</text><line x1="1025.3" y1="254.4" x2="1025.3" y2="436.2" stroke="#3c3c3c" stroke-width="1.25"/><text transform="translate(1028.4,482.5) rotate(-90)" x="0" y="0" letter-spacing="0.8" font-family='"Liberation Serif", serif' font-weight="bold" font-size="27">721</text><line x1="824.5" y1="582" x2="911" y2="582" stroke="#555555" stroke-width="1.3"/><text x="921.5" y="594.3" letter-spacing="0.25" font-family='"Liberation Serif", serif' font-weight="bold" font-size="34">KP0.5</text><line x1="824.5" y1="625.7" x2="911" y2="625.7" stroke="#ff0000" stroke-width="1.3"/><text x="921.5" y="638.0" letter-spacing="0.25" font-family='"Liberation Serif", serif' font-weight="bold" font-size="34">KP1.0</text><line x1="824.5" y1="669.3" x2="911" y2="669.3" stroke="#0000ff" stroke-width="1.3"/><text x="921.5" y="681.6" letter-spacing="0.25" font-family='"Liberation Serif", serif' font-weight="bold" font-size="34">KP1.5</text><line x1="824.5" y1="713" x2="911" y2="713" stroke="#ff00ff" stroke-width="1.3"/><text x="921.5" y="725.3" letter-spacing="0.25" font-family='"Liberation Serif", serif' font-weight="bold" font-size="34">KP2.0</text></svg>
</body></html>
